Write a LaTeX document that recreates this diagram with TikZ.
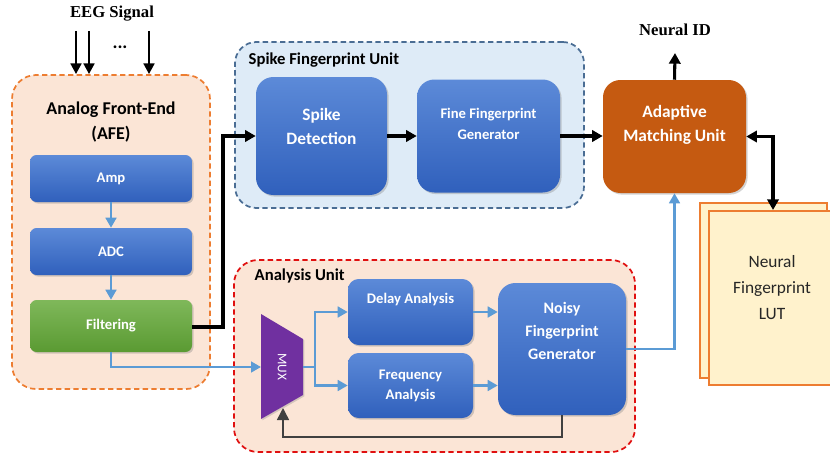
\documentclass[tikz,border=0pt]{standalone}
\usepackage{fontspec}
\setmainfont{Carlito}
\newfontfamily\serifb{Liberation Serif}
\usetikzlibrary{arrows.meta,shadows,calc}
\definecolor{afefill}{HTML}{FBE5D6}
\definecolor{afeline}{HTML}{ED7D31}
\definecolor{sfufill}{HTML}{DEEBF7}
\definecolor{sfuline}{HTML}{4A6D94}
\definecolor{auline}{HTML}{E01010}
\definecolor{bluetop}{HTML}{5C8AD8}
\definecolor{bluebot}{HTML}{3060BC}
\definecolor{greentop}{HTML}{7FB85A}
\definecolor{greenbot}{HTML}{5A9A32}
\definecolor{adapt}{HTML}{C55A11}
\definecolor{muxc}{HTML}{7030A0}
\definecolor{lutfill}{HTML}{FFF2CC}
\definecolor{conblue}{HTML}{5B9BD5}
\definecolor{fbgray}{HTML}{404040}
\tikzset{
  unitbox/.style={rounded corners=#1, line width=1.3pt, dash pattern=on 4pt off 2.5pt},
  bluebox/.style={rounded corners=#1, top color=bluetop, bottom color=bluebot, text=white,
    font=\bfseries, align=center, inner sep=2pt,
    drop shadow={opacity=0.35, shadow xshift=1.2pt, shadow yshift=-1.2pt}},
  greenbox/.style={rounded corners=5pt, top color=greentop, bottom color=greenbot, text=white,
    font=\bfseries, align=center,
    drop shadow={opacity=0.35, shadow xshift=1.2pt, shadow yshift=-1.2pt}},
  blk/.style={line width=2.3pt, -{Triangle[length=8pt,width=8.5pt]}},
  blkboth/.style={line width=2.3pt, {Triangle[length=8pt,width=8.5pt]}-{Triangle[length=8pt,width=8.5pt]}},
  bla/.style={line width=1.8pt, draw=conblue, -{Triangle[length=7.5pt,width=8pt]}},
  blline/.style={line width=1.8pt, draw=conblue},
  title/.style={font=\fontsize{12.5}{14}\selectfont\bfseries, anchor=west},
  lutbox/.style={fill=lutfill, draw=afeline, line width=1.5pt, minimum width=95.25pt, minimum height=131.25pt},
}
\begin{document}
\begin{tikzpicture}[x=0.75pt,y=-0.75pt]
\useasboundingbox (0,0) rectangle (830,460);

% ---------- Analog Front-End ----------
\node[unitbox=18pt, fill=afefill, draw=afeline, minimum width=148.5pt, minimum height=235.5pt] (afe) at (111,232) {};
\node[font=\fontsize{13.5}{19}\selectfont\bfseries, align=center] (afet) at (111,122) {Analog Front-End\\(AFE)};
\node[bluebox=5pt, minimum width=121.5pt, minimum height=35.25pt, font=\fontsize{11}{13}\selectfont\bfseries] (amp) at (111,178.5) {Amp};
\node[bluebox=5pt, minimum width=121.5pt, minimum height=35.25pt, font=\fontsize{11}{13}\selectfont\bfseries] (adc) at (111,251.5) {ADC};
\node[greenbox, minimum width=121.5pt, minimum height=39pt, font=\fontsize{11}{13}\selectfont\bfseries] (filt) at (111,326) {Filtering};
\draw[bla] (amp.south) -- (adc.north);
\draw[bla] (adc.south) -- (filt.north);

% EEG inputs
\node[font=\fontsize{12.5}{14}\selectfont\serifb\bfseries] (eeg) at (112,14) {EEG Signal};
\coordinate (e1) at (76,31);
\coordinate (e2) at (89,31);
\coordinate (e3) at (149,31);
\node[font=\fontsize{14}{14}\selectfont\bfseries] (dots) at (120,47) {...};
\draw[line width=1.9pt, -{Triangle[length=8pt,width=8pt]}] (e1) -- (e1 |- afe.north);
\draw[line width=1.9pt, -{Triangle[length=8pt,width=8pt]}] (e2) -- (e2 |- afe.north);
\draw[line width=1.9pt, -{Triangle[length=8pt,width=8pt]}] (e3) -- (e3 |- afe.north);

% ---------- Spike Fingerprint Unit ----------
\node[unitbox=16pt, fill=sfufill, draw=sfuline, minimum width=261.75pt, minimum height=124.5pt] (sfu) at (409.5,125) {};
\node[title] (sfut) at (244,60) {Spike Fingerprint Unit};
\node[bluebox=13pt, minimum width=98.25pt, minimum height=88.5pt, font=\fontsize{13}{18}\selectfont\bfseries] (sd) at (321.5,136) {Spike\\Detection\\[-4pt]};
\node[bluebox=13pt, minimum width=107.25pt, minimum height=84.75pt, font=\fontsize{11}{16}\selectfont\bfseries] (ffg) at (488.5,136) {Fine Fingerprint\\Generator\\[2pt]};

% ---------- Adaptive Matching Unit ----------
\node[rounded corners=13pt, fill=adapt, text=white, align=center, minimum width=107.25pt, minimum height=84.75pt,
  font=\fontsize{13}{18}\selectfont\bfseries,
  drop shadow={opacity=0.35, shadow xshift=1.2pt, shadow yshift=-1.2pt}] (amu) at (674.5,136.5) {Adaptive\\Matching Unit\\[2pt]};
\node[font=\fontsize{12.5}{14}\selectfont\serifb\bfseries] (nid) at (675,30) {Neural ID};
\coordinate (nidtip) at (675,53);
\draw[blk] (amu.north) -- (nidtip);

% ---------- LUT ----------
\node[lutbox] (lutb) at (763.5,290.5) {};
\node[lutbox, minimum width=96pt, minimum height=130.5pt] (lutf) at (773,298) {};
\node[align=center, font=\fontsize{13}{19.5}\selectfont, text=black!85] (lutt) at (772,288) {Neural\\Fingerprint\\LUT};

% ---------- Analysis Unit ----------
\node[unitbox=18pt, fill=afefill, draw=auline, minimum width=300.75pt, minimum height=144pt] (au) at (434.5,356) {};
\node[title] (aut) at (250,276) {Analysis Unit};
\node[bluebox=8pt, minimum width=93.75pt, minimum height=49.5pt, font=\fontsize{11}{14}\selectfont\bfseries] (delay) at (410.5,312) {Delay Analysis\\[6pt]};
\node[bluebox=8pt, minimum width=93.75pt, minimum height=48.75pt, font=\fontsize{11}{15}\selectfont\bfseries] (freq) at (410.5,385.5) {Frequency\\Analysis};
\node[bluebox=13pt, minimum width=96pt, minimum height=99pt, font=\fontsize{12}{17}\selectfont\bfseries] (noisy) at (562,349) {Noisy\\Fingerprint\\Generator\\[10pt]};

% MUX
\fill[muxc, drop shadow={opacity=0.3, shadow xshift=1pt, shadow yshift=-1pt}] (261,314) -- (303,339) -- (303,395) -- (261,419) -- cycle;
\node[rotate=-90, text=white, font=\fontsize{10}{12}\selectfont] (mux) at (282,367) {MUX};
\coordinate (muxL) at (261,367);
\coordinate (muxR) at (303,367);
\coordinate (muxB) at (283,408);
\coordinate (split) at (315,367);
\coordinate (fb) at (283,437);

% ---------- Connectors ----------
\coordinate (c1) at (223,327);
\draw[blk] (filt.east |- c1) -- (c1) |- (sd.west);
\draw[blk] (sd.east) -- (sd.east -| ffg.west);
\draw[blk] (ffg.east) -- (ffg.east -| amu.west);
\coordinate (lutin) at (773,210);
\draw[blkboth] (amu.east) -| (lutin);

\draw[bla] (filt.south) |- (muxL);
\draw[blline] (muxR) -- (split);
\draw[bla] (split) |- (delay.west);
\draw[bla] (split) |- (freq.west);
\draw[bla] (delay.east) -- (delay.east -| noisy.west);
\draw[bla] (freq.east) -- (freq.east -| noisy.west);
\draw[bla] (noisy.east) -| (amu.south);
\draw[line width=1.1pt, draw=fbgray, -{Triangle[length=9pt,width=9pt]}] (noisy.south) |- (fb) -- (muxB);
\end{tikzpicture}
\end{document}
